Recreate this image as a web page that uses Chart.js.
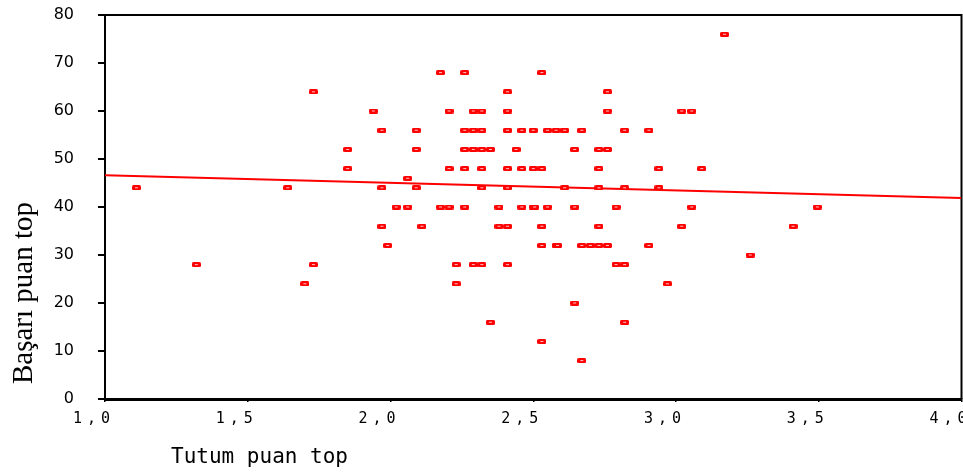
<!DOCTYPE html>
<html>
<head>
<meta charset="utf-8">
<script src="https://cdn.jsdelivr.net/npm/chart.js@4.4.1/dist/chart.umd.min.js"></script>
<style>
  body{margin:0;background:#fff;}
  #chart{display:block;}
</style>
</head>
<body>
<canvas id="chart" width="963" height="472"></canvas>
<script>
// --- Data ---
const tutum = [
  1.11,1.32,1.64,1.70,1.73,1.73,
  1.85,1.85, 1.94, 1.97,1.97,1.97, 1.99, 2.02, 2.06,2.06,
  2.09,2.09,2.09, 2.11, 2.175,2.175, 2.205,2.205,2.205, 2.23,2.23,
  2.26,2.26,2.26,2.26,2.26, 2.29,2.29,2.29,2.29,
  2.32,2.32,2.32,2.32,2.32,2.32, 2.35,2.35, 2.38,2.38,
  2.41,2.41,2.41,2.41,2.41,2.41,2.41, 2.44, 2.46,2.46,2.46,
  2.50,2.50,2.50,2.505, 2.53,2.53,2.53,2.53,2.53, 2.55,2.55,
  2.58,2.58,2.585, 2.61,2.61, 2.645,2.645,2.645, 2.67,2.67,2.67, 2.70,
  2.73,2.73,2.73,2.73,2.73, 2.76,2.76,2.76,2.76, 2.79,2.79,
  2.82,2.82,2.82,2.82, 2.905,2.905, 2.94,2.94, 2.97,
  3.02,3.02, 3.055,3.055, 3.09, 3.17, 3.26, 3.41, 3.495
];
const basari = [
  44,28,44,24,64,28,
  52,48, 60, 56,44,36, 32, 40, 46,40,
  56,52,44, 36, 68,40, 60,48,40, 28,24,
  68,56,52,48,40, 60,56,52,28,
  60,56,52,48,44,28, 52,16, 40,36,
  64,60,56,48,44,36,28, 52, 56,48,40,
  56,48,40,40, 68,48,36,32,12, 56,40,
  56,32,32, 56,44, 52,40,20, 56,32,8, 32,
  52,48,44,36,32, 64,60,52,32, 40,28,
  56,44,28,16, 56,32, 48,44, 24,
  60,36, 60,40, 48, 76, 30, 36, 40
];
// fit line end points
const fitX = [1.0, 4.0];
const fitY = [46.6, 41.9];

const RED = "#ff0000";

// --- small rectangle marker like the original ---
function makeMarker(){
  const c=document.createElement("canvas"); c.width=9; c.height=5;
  const g=c.getContext("2d");
  g.fillStyle=RED; g.beginPath(); g.roundRect(0,0,9,5,1.5); g.fill();
  g.fillStyle="#ffc8c8"; g.fillRect(3,2,3,1);
  return c;
}

// --- extra drawing: frame, axis titles, spaced x tick labels ---
const extras = {
  id:"extras",
  afterLayout(chart){
    const s=chart.scales.x;
    if(!s._spaced){
      const orig=s.drawLabels;
      s.drawLabels=function(a){ this.ctx.save(); this.ctx.letterSpacing="5px"; orig.call(this,a); this.ctx.restore(); };
      s._spaced=true;
    }
  },
  beforeDatasetsDraw(chart){
    const {ctx, chartArea:a}=chart;
    ctx.save();
    ctx.strokeStyle="#000"; ctx.lineWidth=2;
    ctx.beginPath();
    ctx.moveTo(a.left, a.top); ctx.lineTo(a.right, a.top); ctx.lineTo(a.right, a.bottom);
    ctx.stroke();
    ctx.restore();
  },
  afterDraw(chart){
    const ctx=chart.ctx;
    ctx.save();
    ctx.fillStyle="#000";
    ctx.font="21px 'DejaVu Sans Mono'";
    ctx.textAlign="left"; ctx.textBaseline="alphabetic";
    ctx.fillText("Tutum puan top", 171, 463);
    ctx.translate(32, 293);
    ctx.rotate(-Math.PI/2);
    ctx.font="29px 'Liberation Serif'";
    ctx.textAlign="center";
    ctx.fillText("Başarı puan top", 0, 0);
    ctx.restore();
  }
};

const points = tutum.map((x,i)=>({x:x, y:basari[i]}));
const fitLine = fitX.map((x,i)=>({x:x, y:fitY[i]}));

new Chart(document.getElementById("chart"),{
  type:"scatter",
  data:{datasets:[
    {label:"Başarı", data:points, pointStyle:makeMarker(), pointRadius:5, pointHoverRadius:5},
    {label:"Fit", data:fitLine, showLine:true, borderColor:RED, borderWidth:2, pointRadius:0, fill:false}
  ]},
  options:{
    responsive:false, animation:false,
    layout:{autoPadding:false, padding:{top:15, right:1.5, left:0, bottom:0}},
    plugins:{legend:{display:false}, tooltip:{enabled:false}},
    scales:{
      x:{
        type:"linear", min:1, max:4,
        ticks:{stepSize:0.5, color:"#000", padding:8, labelOffset:-11,
          font:{family:"'DejaVu Sans Mono'", size:15},
          callback:v=>v.toFixed(1).replace(".",",")},
        grid:{drawOnChartArea:false, drawTicks:true, tickLength:3, color:"#000", lineWidth:1.5},
        border:{color:"#000", width:3},
        afterFit:s=>{ s.height=73; s.paddingLeft=0; s.paddingRight=0; }
      },
      y:{
        min:0, max:80,
        ticks:{stepSize:10, color:"#000", padding:24,
          font:{family:"'DejaVu Sans'", size:16}},
        grid:{drawOnChartArea:false, drawTicks:true, tickLength:7, color:"#000", lineWidth:2},
        border:{color:"#000", width:2},
        afterFit:s=>{ s.width=105; s.paddingTop=0; s.paddingBottom=0; }
      }
    }
  },
  plugins:[extras]
});
</script>
</body>
</html>
